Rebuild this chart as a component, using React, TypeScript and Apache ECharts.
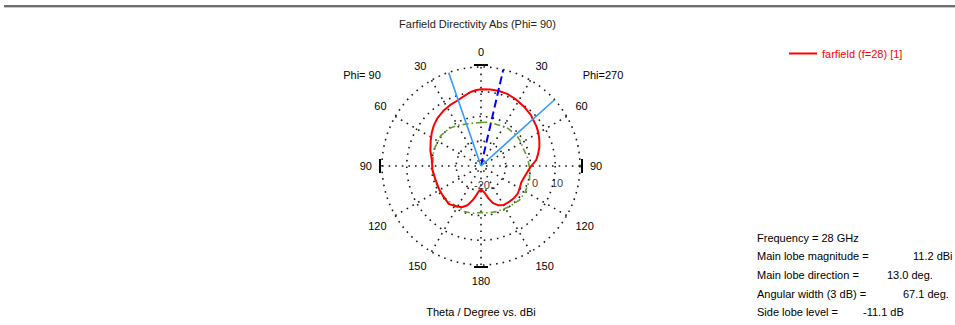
import React, { useEffect, useRef } from "react";
import * as echarts from "echarts";

// Farfield directivity cut, theta in degrees (clockwise from top), values in dBi
const MAIN_ANGLES = [0, 7, 13, 20, 27.5, 36, 44.5, 48, 54, 60, 66, 72, 78, 84, 91, 98, 105, 112, 120, 127, 135, 142, 150, 156, 162, 167, 172, 180, 186, 190, 194, 199, 205, 212, 220, 230, 240, 253, 265, 277, 287, 297, 304, 311, 318, 326, 333, 341, 347, 352, 356, 360];
const MAIN_VALUES = [11.0, 11.15, 11.2, 11.0, 10.4, 9.6, 8.8, 8.2, 7.6, 6.8, 5.8, 4.8, 3.6, 2.4, 0.0, -1.2, -2.0, -2.4, -2.0, -1.4, -1.4, -1.6, -1.8, -2.6, -4.2, -6.6, -9.0, -10.6, -9.4, -7.6, -5.6, -3.2, -1.6, -0.8, 0.1, -0.4, -0.6, -0.8, -0.3, 0.0, 1.4, 2.8, 4.0, 5.2, 6.2, 7.0, 7.6, 8.2, 9.2, 10.2, 10.7, 11.0];

const CROSS_ANGLES = [0, 11, 25, 35, 49, 58, 66, 80, 93, 106, 120, 131, 145, 161, 170, 180, 190, 200, 210, 220, 231, 251, 269, 288, 307, 321, 331, 340, 350, 360];
const CROSS_VALUES = [-2.4, -2.0, -1.9, -1.3, -1.0, -1.2, -1.5, -0.9, -0.3, 0.4, 0.7, 0.8, 0.0, -0.5, -0.8, -1.2, -0.6, -0.4, -1.0, -0.8, -0.4, -0.4, -0.4, 0.2, 0.4, -0.2, -1.2, -2.0, -2.4, -2.4];

const MAIN_LOBE_DIR = 13.0;
const BEAM_EDGES = [340.9, 48.0];
const RING_LABELS = [10, 0, -20];

const R_MIN = -20;
const R_MAX = 20;

const SERIES_NAME = "farfield (f=28) [1]";
const TITLE = "Farfield Directivity Abs (Phi= 90)";
const X_CAPTION = "Theta / Degree vs. dBi";
const INFO_LABELS = ["Frequency = 28 GHz", "Main lobe magnitude =", "Main lobe direction =", "Angular width (3 dB) =", "Side lobe level = "];
const INFO_VALUES = ["", "11.2 dBi", `${MAIN_LOBE_DIR.toFixed(1)} deg.`, "67.1 deg.", "-11.1 dB"];

const CX = 481;
const CY = 166;
const RADIUS = 99;
const FONT = "'Liberation Sans', Arial, sans-serif";

// where each ring value is annotated: angle on the plot and a small nudge
const RING_LABEL_ANGLE: Record<number, number> = { 10: 104, 0: 104, [-20]: 0 };
const RING_LABEL_NUDGE: Record<number, number[]> = { 10: [4, -1], 0: [6, 5], [-20]: [1, 19] };

export default function App() {
  const ref = useRef<HTMLDivElement>(null);

  useEffect(() => {
    if (!ref.current) return;
    const chart = echarts.init(ref.current, null, { renderer: "svg" });

    const dotted = { color: "#1a1a1a", width: 1.6, type: [1.6, 5] as number[] };

    const ticks = [
      { x1: CX - 7, y1: CY - RADIUS - 2, x2: CX + 7, y2: CY - RADIUS - 2 },
      { x1: CX - 7, y1: CY + RADIUS + 2, x2: CX + 7, y2: CY + RADIUS + 2 },
      { x1: CX - RADIUS - 2, y1: CY - 7, x2: CX - RADIUS - 2, y2: CY + 7 },
      { x1: CX + RADIUS + 2, y1: CY - 7, x2: CX + RADIUS + 2, y2: CY + 7 },
    ].map((s) => ({
      type: "line",
      shape: s,
      style: { stroke: "#000", lineWidth: 2 },
    }));

    const infoY = [238, 256, 275, 294, 312];
    const infoX = [0, 913, 887, 903, 863];
    const info: any[] = [];
    INFO_LABELS.forEach((t, i) => {
      info.push({
        type: "text",
        x: 757,
        y: infoY[i],
        style: { text: t, font: `11px ${FONT}`, fill: "#000", verticalAlign: "middle" },
      });
      if (INFO_VALUES[i]) {
        info.push({
          type: "text",
          x: infoX[i],
          y: infoY[i],
          style: { text: INFO_VALUES[i], font: `11px ${FONT}`, fill: "#000", verticalAlign: "middle" },
        });
      }
    });

    const ringLabelData = RING_LABELS.map((v) => ({
      value: [v, RING_LABEL_ANGLE[v]],
      label: { offset: RING_LABEL_NUDGE[v] },
    }));

    chart.setOption({
      animation: false,
      backgroundColor: "#fff",
      title: {
        text: TITLE,
        left: "center",
        top: 13,
        textStyle: { fontSize: 11, fontWeight: "normal", color: "#222", fontFamily: FONT },
      },
      legend: {
        data: [SERIES_NAME],
        left: 784,
        top: 43,
        icon: "rect",
        itemWidth: 28,
        itemHeight: 2,
        itemGap: 6,
        textStyle: { color: "#ff0000", fontSize: 11, fontFamily: FONT },
      },
      polar: { center: [CX, CY], radius: RADIUS },
      angleAxis: {
        type: "value",
        min: 0,
        max: 360,
        interval: 30,
        startAngle: 90,
        clockwise: true,
        axisLine: { show: false },
        axisTick: { show: false },
        axisLabel: {
          margin: 10,
          fontSize: 11,
          color: "#000",
          fontFamily: FONT,
          formatter: (v: number) => (v >= 360 ? "" : String(v <= 180 ? v : 360 - v)),
        },
        splitLine: { show: true, lineStyle: dotted },
      },
      radiusAxis: {
        type: "value",
        min: R_MIN,
        max: R_MAX,
        interval: 10,
        axisLine: { show: false },
        axisTick: { show: false },
        axisLabel: { show: false },
        splitLine: { show: true, lineStyle: dotted },
      },
      series: [
        {
          name: SERIES_NAME,
          type: "line",
          coordinateSystem: "polar",
          symbol: "none",
          lineStyle: { color: "#ff0000", width: 2 },
          itemStyle: { color: "#ff0000" },
          data: MAIN_ANGLES.map((a, i) => [MAIN_VALUES[i], a]),
          z: 5,
        },
        {
          name: "cross",
          type: "line",
          coordinateSystem: "polar",
          symbol: "none",
          lineStyle: { color: "#5f9e2f", width: 1.6, type: [6, 3, 1.5, 3] },
          data: CROSS_ANGLES.map((a, i) => [CROSS_VALUES[i], a]),
          z: 4,
        },
        {
          name: "main lobe",
          type: "line",
          coordinateSystem: "polar",
          symbol: "none",
          lineStyle: { color: "#0000ff", width: 2, type: [8, 4] },
          data: [[R_MIN, MAIN_LOBE_DIR], [R_MAX, MAIN_LOBE_DIR]],
          z: 6,
        },
        ...BEAM_EDGES.map((a, i) => ({
          name: `edge${i}`,
          type: "line",
          coordinateSystem: "polar",
          symbol: "none",
          lineStyle: { color: "#3399ff", width: 1.6 },
          data: [[R_MIN, a], [R_MAX, a]],
          z: 6,
        })),
        {
          name: "rings",
          type: "scatter",
          coordinateSystem: "polar",
          symbolSize: 0,
          silent: true,
          itemStyle: { color: "#000" },
          data: ringLabelData,
          label: {
            show: true,
            position: [0, 0],
            align: "center",
            verticalAlign: "middle",
            fontSize: 11,
            fontFamily: FONT,
            color: "#000",
            formatter: (p: any) => String(p.value[0]),
          },
          z: 7,
        },
      ],
      graphic: [
        {
          type: "rect",
          shape: { x: 4, y: 5, width: 960, height: 2 },
          style: { fill: "#6e6e6e" },
        },
        {
          type: "rect",
          shape: { x: 4, y: 7, width: 960, height: 1 },
          style: { fill: "#c8c8c8" },
        },
        {
          type: "text",
          x: 362,
          y: 75,
          style: { text: "Phi= 90", font: `11px ${FONT}`, fill: "#000", align: "center", verticalAlign: "middle" },
        },
        {
          type: "text",
          x: 603,
          y: 75,
          style: { text: "Phi=270", font: `11px ${FONT}`, fill: "#000", align: "center", verticalAlign: "middle" },
        },
        {
          type: "text",
          x: CX,
          y: 312,
          style: { text: X_CAPTION, font: `11px ${FONT}`, fill: "#000", align: "center", verticalAlign: "middle" },
        },
        ...ticks,
        ...info,
      ],
    });

    return () => chart.dispose();
  }, []);

  return (
    <div
      ref={ref}
      style={{ position: "fixed", left: 0, top: 0, width: 955, height: 325, background: "#fff" }}
    />
  );
}
